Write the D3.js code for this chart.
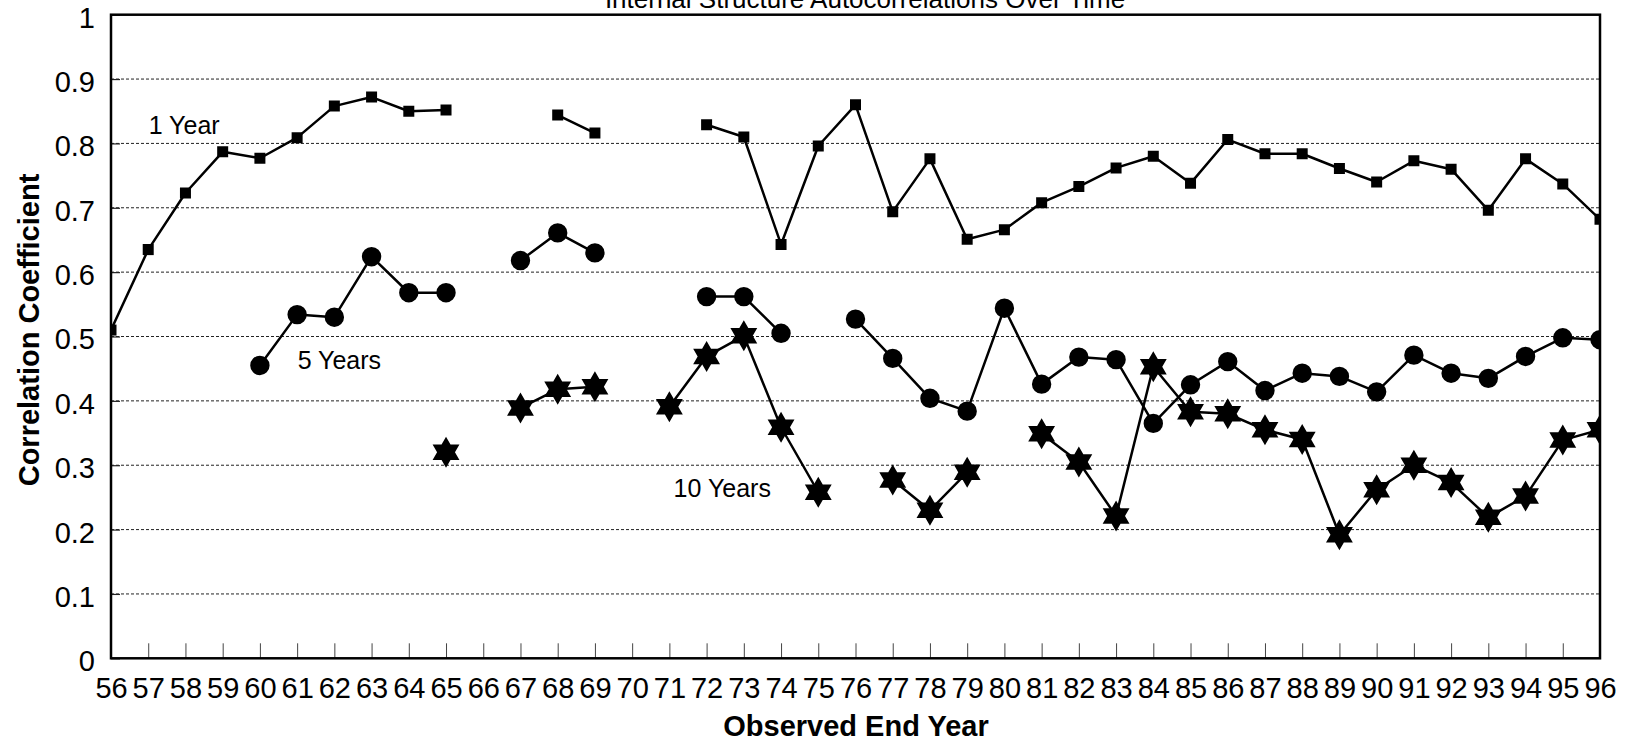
<!DOCTYPE html>
<html>
<head>
<meta charset="utf-8">
<script src="https://cdn.jsdelivr.net/npm/d3@7"></script>
<style>
  html, body { margin: 0; padding: 0; background: #fff; }
  svg { display: block; font-family: "Liberation Sans", Arial, sans-serif; }
</style>
</head>
<body>
<svg id="chart" width="1627" height="741"></svg>
<script>
// Observed end years (two-digit labels) and autocorrelations per horizon; null = no value
const years = d3.range(56, 97);
const yearLabels = years.map(String);
const yTicks = [0, 0.1, 0.2, 0.3, 0.4, 0.5, 0.6, 0.7, 0.8, 0.9, 1];
const yTickLabels = ["0", "0.1", "0.2", "0.3", "0.4", "0.5", "0.6", "0.7", "0.8", "0.9", "1"];

const oneYear = [
  0.510, 0.635, 0.723, 0.787, 0.777, 0.809, 0.858, 0.872, 0.850, 0.852,
  null, null, 0.844, 0.816, null, null, 0.829, 0.810, 0.643, 0.796,
  0.860, 0.694, 0.776, 0.651, 0.666, 0.708, 0.733, 0.762, 0.780, 0.738,
  0.806, 0.784, 0.784, 0.761, 0.740, 0.773, 0.760, 0.696, 0.776, 0.737,
  0.682
];
const fiveYears = [
  null, null, null, null, 0.455, 0.534, 0.530, 0.624, 0.568, 0.568,
  null, 0.618, 0.661, 0.630, null, null, 0.562, 0.562, 0.505, null,
  0.527, 0.466, 0.404, 0.384, 0.544, 0.426, 0.468, 0.464, 0.365, 0.425,
  0.461, 0.416, 0.443, 0.438, 0.414, 0.471, 0.443, 0.435, 0.469, 0.498,
  0.495
];
const tenYears = [
  null, null, null, null, null, null, null, null, null, 0.320,
  null, 0.389, 0.418, 0.422, null, 0.391, 0.469, 0.501, 0.359, 0.258,
  null, 0.277, 0.230, 0.289, null, 0.349, 0.305, 0.221, 0.453, 0.383,
  0.380, 0.355, 0.340, 0.192, 0.262, 0.300, 0.273, 0.219, 0.252, 0.339,
  0.355
];

const series = [
  { name: "1 Year",   values: oneYear,   marker: "square", labelYear: 57.0, labelValue: 0.815 },
  { name: "5 Years",  values: fiveYears, marker: "circle", labelYear: 61.0, labelValue: 0.449 },
  { name: "10 Years", values: tenYears,  marker: "star",   labelYear: 71.1, labelValue: 0.250 }
];

const plot = { left: 111, right: 1600, top: 14.7, bottom: 658.3 };
const svg = d3.select("#chart");

const x = d3.scaleLinear().domain([56, 96]).range([plot.left, plot.right]);
const y = d3.scaleLinear().domain([0, 1]).range([plot.bottom, plot.top]);

// Title sits above the frame
svg.append("text")
  .attr("x", 865).attr("y", 7.5)
  .attr("text-anchor", "middle")
  .attr("font-size", 26)
  .attr("fill", "#000")
  .text("Internal Structure Autocorrelations Over Time");

// Dashed horizontal gridlines
svg.append("g")
  .selectAll("line")
  .data(yTicks.filter(v => v > 0 && v < 1))
  .join("line")
  .attr("x1", plot.left).attr("x2", plot.right)
  .attr("y1", d => y(d)).attr("y2", d => y(d))
  .attr("stroke", "#222")
  .attr("stroke-width", 1)
  .attr("stroke-dasharray", "3,2");

// Y axis: inward ticks, labels on the left
const yAxis = svg.append("g")
  .attr("transform", `translate(${plot.left},0)`)
  .call(d3.axisLeft(y)
    .tickValues(yTicks)
    .tickFormat((d, i) => yTickLabels[i])
    .tickSizeInner(-9).tickSizeOuter(0).tickPadding(16));
yAxis.select(".domain").remove();
yAxis.selectAll(".tick line").attr("stroke", "#222").attr("stroke-width", 1.2);
yAxis.selectAll(".tick text")
  .attr("font-size", 29).attr("font-family", "Liberation Sans, Arial, sans-serif")
  .attr("fill", "#000").attr("dy", "0.43em");

// X axis: ticks pointing up into the plot
const xAxis = svg.append("g")
  .attr("transform", `translate(0,${plot.bottom})`)
  .call(d3.axisBottom(x)
    .tickValues(years)
    .tickFormat((d, i) => yearLabels[i])
    .tickSizeInner(-15).tickSizeOuter(0).tickPadding(19));
xAxis.select(".domain").remove();
xAxis.selectAll(".tick line").attr("stroke", "#444").attr("stroke-width", 1);
xAxis.selectAll(".tick text")
  .attr("font-size", 29).attr("font-family", "Liberation Sans, Arial, sans-serif")
  .attr("fill", "#000");

// Axis titles
svg.append("text")
  .attr("x", 856).attr("y", 736)
  .attr("text-anchor", "middle")
  .attr("font-size", 29).attr("font-weight", "bold")
  .text("Observed End Year");

svg.append("text")
  .attr("transform", "translate(39,330) rotate(-90)")
  .attr("text-anchor", "middle")
  .attr("font-size", 29).attr("font-weight", "bold")
  .text("Correlation Coefficient");

// Clip region for lines and markers
svg.append("defs").append("clipPath").attr("id", "plot-clip")
  .append("rect")
  .attr("x", plot.left).attr("y", plot.top)
  .attr("width", plot.right - plot.left).attr("height", plot.bottom - plot.top);

const marks = svg.append("g").attr("clip-path", "url(#plot-clip)");

const line = d3.line()
  .defined(d => d.v != null)
  .x(d => x(d.year))
  .y(d => y(d.v));

// Six-pointed star centred on the origin, points up and down
function hexagram(R) {
  const r = R / Math.sqrt(3);
  const pts = d3.range(12).map(i => {
    const a = -Math.PI / 2 + i * Math.PI / 6;
    const rad = i % 2 === 0 ? R : r;
    return [rad * Math.cos(a), rad * Math.sin(a)];
  });
  return "M" + pts.map(p => p.join(",")).join("L") + "Z";
}

const markerPath = {
  square: d3.symbol().type(d3.symbolSquare).size(11 * 11)(),
  circle: d3.symbol().type(d3.symbolCircle).size(Math.PI * 9.7 * 9.7)(),
  star: hexagram(15.5)
};

series.forEach(s => {
  const pts = years.map((yr, i) => ({ year: yr, v: s.values[i] }));
  marks.append("path")
    .datum(pts)
    .attr("fill", "none")
    .attr("stroke", "#000")
    .attr("stroke-width", 2.5)
    .attr("stroke-linejoin", "round")
    .attr("d", line);
  marks.append("g")
    .selectAll("path")
    .data(pts.filter(d => d.v != null))
    .join("path")
    .attr("transform", d => `translate(${x(d.year)},${y(d.v)})`)
    .attr("d", markerPath[s.marker])
    .attr("fill", "#000");
});

// Series names placed next to their lines
svg.append("g")
  .selectAll("text")
  .data(series)
  .join("text")
  .attr("x", d => x(d.labelYear) + 0.5)
  .attr("y", d => y(d.labelValue))
  .attr("font-size", 25)
  .attr("fill", "#000")
  .text(d => d.name);

// Frame around the plot area
svg.append("rect")
  .attr("x", plot.left).attr("y", plot.top)
  .attr("width", plot.right - plot.left).attr("height", plot.bottom - plot.top)
  .attr("fill", "none")
  .attr("stroke", "#000")
  .attr("stroke-width", 2.5);
</script>
</body>
</html>
